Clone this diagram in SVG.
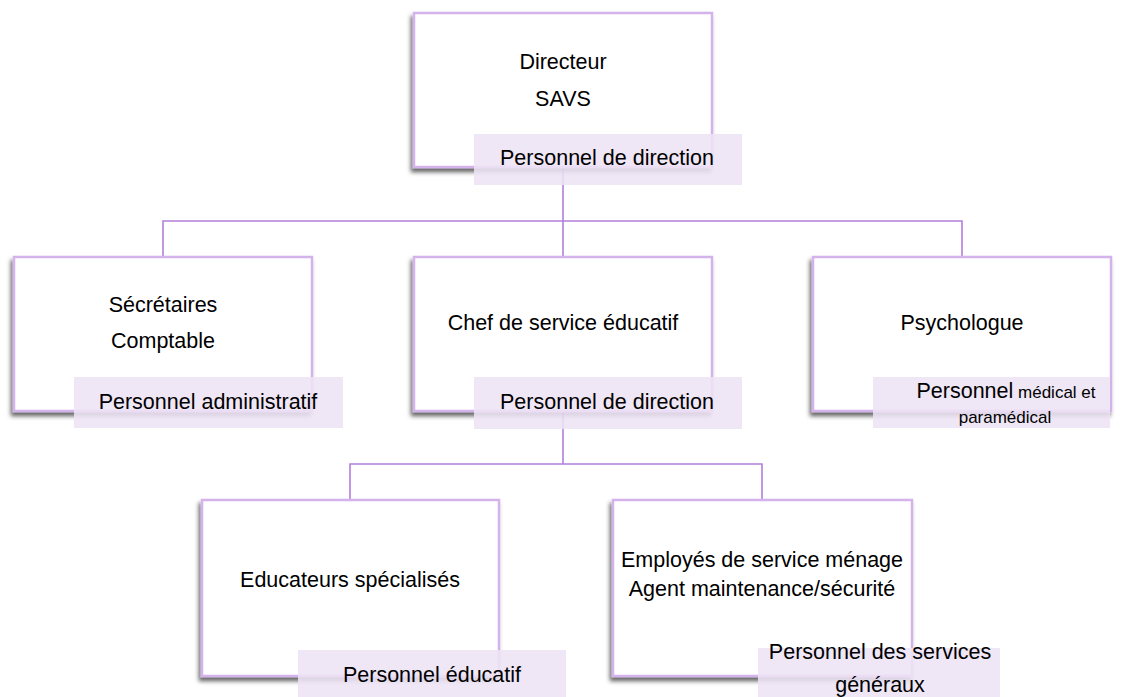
<svg xmlns="http://www.w3.org/2000/svg" width="1126" height="697" viewBox="0 0 1126 697">
<defs>
<filter id="sh" x="-10%" y="-10%" width="120%" height="125%">
<feDropShadow dx="-2" dy="4" stdDeviation="2.2" flood-color="#000" flood-opacity="0.6"/>
</filter>
<style>
.box{fill:#fff;stroke:#d4b3ec;stroke-width:2.5;filter:url(#sh)}
.lab{fill:#ede2f5;fill-opacity:0.88}
.t{font-family:"Liberation Sans",Arial,sans-serif;font-size:21.5px;fill:#000;text-anchor:middle}
.s{font-size:17px}
.con{fill:none;stroke:#b27fdc;stroke-width:1.6}
</style>
</defs>
<rect width="1126" height="697" fill="#fff"/>
<g id="connectors">
<path class="con" d="M563 167V221M163 257V221H962V257M563 221V257"/>
<path class="con" d="M563 411V464M350 500V464H762V500"/>
</g>
<g id="n-directeur">
<rect class="box" x="414" y="13" width="298" height="154"/>
<text class="t" x="563" y="69">Directeur</text>
<text class="t" x="563" y="106">SAVS</text>
<rect class="lab" x="474" y="134" width="268" height="51"/>
<text class="t" x="607" y="165">Personnel de direction</text>
</g>
<g id="n-secretaires">
<rect class="box" x="14" y="257" width="298" height="154"/>
<text class="t" x="163" y="312">Sécrétaires</text>
<text class="t" x="163" y="348">Comptable</text>
<rect class="lab" x="74" y="377" width="269" height="51"/>
<text class="t" x="208" y="409">Personnel administratif</text>
</g>
<g id="n-chef">
<rect class="box" x="414" y="257" width="298" height="154"/>
<text class="t" x="563" y="330">Chef de service éducatif</text>
<rect class="lab" x="474" y="377" width="268" height="52"/>
<text class="t" x="607" y="409">Personnel de direction</text>
</g>
<g id="n-psychologue">
<rect class="box" x="813" y="257" width="298" height="154"/>
<text class="t" x="962" y="330">Psychologue</text>
<rect class="lab" x="873" y="377" width="237" height="51"/>
<text class="t" x="1006" y="398">Personnel<tspan class="s"> médical et</tspan></text>
<text class="t s" x="1005" y="423">paramédical</text>
</g>
<g id="n-educateurs">
<rect class="box" x="202" y="500" width="297" height="176"/>
<text class="t" x="350" y="587">Educateurs spécialisés</text>
<rect class="lab" x="298" y="650" width="268" height="47"/>
<text class="t" x="432" y="682">Personnel éducatif</text>
</g>
<g id="n-employes">
<rect class="box" x="613" y="500" width="299" height="176"/>
<text class="t" x="762" y="567">Employés de service ménage</text>
<text class="t" x="762" y="596">Agent maintenance/sécurité</text>
<rect class="lab" x="758" y="648" width="242" height="49"/>
<text class="t" x="880" y="659">Personnel des services</text>
<text class="t" x="880" y="692">généraux</text>
</g>
</svg>
